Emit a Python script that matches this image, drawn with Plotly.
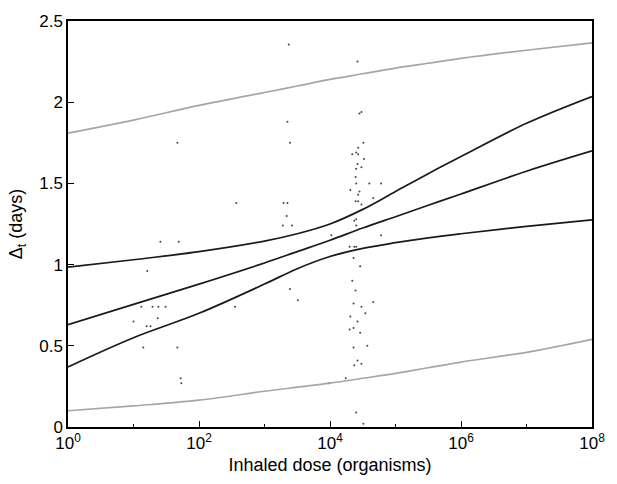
import plotly.graph_objects as go

decades = [0, 1, 2, 3, 3.5, 4, 4.5, 5, 5.5, 6, 7, 8]
dose = [10 ** d for d in decades]

upper_grey = [1.81, 1.89, 1.98, 2.06, 2.10, 2.14, 2.175, 2.21, 2.24, 2.27, 2.32, 2.365]
upper_black = [0.985, 1.03, 1.08, 1.145, 1.19, 1.25, 1.34, 1.45, 1.56, 1.665, 1.87, 2.035]
middle_black = [0.63, 0.755, 0.88, 1.01, 1.08, 1.15, 1.225, 1.295, 1.365, 1.435, 1.575, 1.70]
lower_black = [0.37, 0.55, 0.70, 0.88, 0.975, 1.05, 1.10, 1.135, 1.165, 1.19, 1.235, 1.275]
lower_grey = [0.10, 0.13, 0.165, 0.22, 0.245, 0.27, 0.30, 0.33, 0.365, 0.40, 0.46, 0.54]

dot_log10_dose = [
    3.37, 4.42, 4.45, 4.48, 3.35, 3.39, 1.67, 4.51, 4.43, 4.40, 4.34, 4.43, 4.52,
    4.42, 4.48, 4.40, 4.39, 4.40, 4.60, 4.78, 4.31, 4.45, 4.43, 4.66, 4.39, 4.43,
    4.48, 3.29, 3.35, 2.57, 3.34, 4.37, 4.40, 3.28, 3.42, 4.40, 4.02, 4.78, 1.41,
    1.69, 4.30, 4.37, 4.40, 4.36, 4.46, 1.21, 4.34, 3.39, 4.39, 3.51, 4.66, 4.36,
    4.48, 1.12, 1.29, 1.38, 1.49, 2.55, 4.54, 4.31, 1.37, 4.42, 1.00, 1.20, 1.26,
    4.36, 4.30, 4.46, 1.15, 1.67, 4.57, 4.36, 4.42, 4.48, 4.37, 4.24, 3.98, 1.72,
    1.73, 4.40, 4.51,
]
dot_days = [
    2.355, 2.25, 1.93, 1.94, 1.88, 1.75, 1.75, 1.75, 1.72, 1.69, 1.68, 1.68, 1.65,
    1.62, 1.60, 1.59, 1.54, 1.50, 1.50, 1.50, 1.46, 1.45, 1.43, 1.41, 1.39, 1.39,
    1.37, 1.38, 1.38, 1.38, 1.30, 1.27, 1.28, 1.24, 1.24, 1.24, 1.18, 1.18, 1.14,
    1.14, 1.11, 1.11, 1.11, 1.04, 0.99, 0.96, 0.90, 0.85, 0.84, 0.78, 0.77, 0.76,
    0.74, 0.74, 0.74, 0.74, 0.74, 0.74, 0.70, 0.68, 0.67, 0.65, 0.65, 0.62, 0.62,
    0.61, 0.60, 0.58, 0.49, 0.49, 0.50, 0.49, 0.41, 0.39, 0.38, 0.30, 0.27, 0.30,
    0.27, 0.09, 0.02,
]

major_ticks = [1, 1e2, 1e4, 1e6, 1e8]
major_text = ["10<sup>0</sup>", "10<sup>2</sup>", "10<sup>4</sup>", "10<sup>6</sup>", "10<sup>8</sup>"]
minor_ticks = [1e1, 1e3, 1e5, 1e7]
y_ticks = [0, 0.5, 1, 1.5, 2, 2.5]
y_text = ["0", "0.5", "1", "1.5", "2", "2.5"]

fig = go.Figure()

fig.add_trace(go.Scatter(
    x=[10 ** v for v in dot_log10_dose], y=dot_days, mode="markers",
    marker=dict(size=2, color="#444444", line=dict(width=0)), showlegend=False,
))

grey = "#a6a6a6"
black = "#1a1a1a"
for ys, col in [(upper_grey, grey), (lower_grey, grey),
                (upper_black, black), (middle_black, black), (lower_black, black)]:
    fig.add_trace(go.Scatter(
        x=dose, y=ys, mode="lines",
        line=dict(color=col, width=1.7, shape="spline", smoothing=1.0),
        showlegend=False,
    ))

font = dict(family="Liberation Sans, Arial, sans-serif", size=17, color="black")

fig.update_layout(
    width=617, height=484,
    margin=dict(l=68, r=22, t=14, b=57),
    paper_bgcolor="white", plot_bgcolor="white",
    font=font,
    xaxis=dict(
        type="log", range=[0, 8],
        tickmode="array", tickvals=major_ticks, ticktext=major_text,
        ticks="inside", ticklen=6, tickwidth=1, tickcolor="black",
        minor=dict(tickmode="array", tickvals=minor_ticks, ticks="inside",
                   ticklen=3, tickwidth=1, tickcolor="black", showgrid=False),
        showline=True, linecolor="black", linewidth=1.5, mirror=True,
        showgrid=False, zeroline=False,
        title=dict(text="Inhaled dose (organisms)", font=dict(size=18), standoff=6),
        tickfont=font,
    ),
    yaxis=dict(
        range=[0, 2.5],
        tickmode="array", tickvals=y_ticks, ticktext=y_text,
        ticks="inside", ticklen=6, tickwidth=1, tickcolor="black",
        showline=True, linecolor="black", linewidth=1.5, mirror=True,
        showgrid=False, zeroline=False,
        title=dict(text="Δ<sub>t</sub> (days)", font=dict(size=18), standoff=12),
        tickfont=font,
    ),
)

fig.write_html("out.html")
